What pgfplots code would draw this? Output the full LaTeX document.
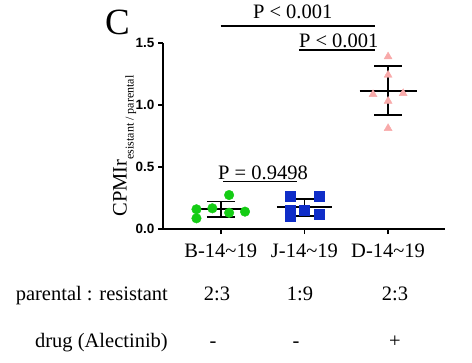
\documentclass[border=0pt]{standalone}
\usepackage{fontspec}
\setmainfont{Liberation Serif}
\setsansfont{Liberation Sans}
\usepackage{pgfplots}
\pgfplotsset{compat=1.18}
\definecolor{cgreen}{RGB}{20,204,20}
\definecolor{cblue}{RGB}{15,45,200}
\definecolor{cpink}{RGB}{248,170,170}
\newcommand{\bigfont}{\fontsize{20.5bp}{24bp}\selectfont}
\begin{document}
\begin{tikzpicture}
\begin{axis}[
  width=282bp, height=186bp, scale only axis,
  xmin=-0.69, xmax=2.68, ymin=0, ymax=1.5,
  axis x line=bottom, axis y line=left,
  axis line style={-, line width=1.6bp, black},
  xtick={0,1,2},
  xticklabels={B-14\textasciitilde19, J-14\textasciitilde19, D-14\textasciitilde19},
  ytick={0,0.5,1,1.5},
  tick align=outside, major tick length=5bp,
  tick style={line width=1.6bp, black},
  /pgf/number format/assume math mode=true,
  yticklabel style={font=\fontsize{13.5bp}{15bp}\selectfont\sffamily\bfseries,
    /pgf/number format/fixed, /pgf/number format/fixed zerofill,
    /pgf/number format/precision=1},
  xticklabel style={font=\bigfont, yshift=-6bp},
  clip=false,
]
% B-14~19
\addplot[only marks, mark=*, mark size=4.8bp, color=cgreen] coordinates {
  (-0.29,0.159) (-0.29,0.086) (-0.10,0.167) (0.10,0.274) (0.10,0.131) (0.29,0.140)};
% J-14~19
\addplot[only marks, mark=square*, mark size=4.8bp, color=cblue] coordinates {
  (0.83,0.266) (0.83,0.153) (0.83,0.099) (1.00,0.153) (1.18,0.266) (1.18,0.121)};
% D-14~19
\addplot[only marks, mark=triangle*, mark size=4.6bp, color=cpink] coordinates {
  (2,1.390) (2,1.242) (1.82,1.086) (2.18,1.094) (2,1.032) (2,0.812)};
% mean +- SD
\addplot[black, line width=1.8bp] coordinates {(-0.31,0.159) (0.31,0.159)};
\addplot[black, line width=1.8bp] coordinates {(0,0.094) (0,0.222)};
\addplot[black, line width=1.8bp] coordinates {(-0.165,0.222) (0.165,0.222)};
\addplot[black, line width=1.8bp] coordinates {(-0.165,0.094) (0.165,0.094)};
\addplot[black, line width=1.8bp] coordinates {(0.67,0.176) (1.33,0.176)};
\addplot[black, line width=1.8bp] coordinates {(1,0.107) (1,0.243)};
\addplot[black, line width=1.8bp] coordinates {(0.835,0.243) (1.165,0.243)};
\addplot[black, line width=1.8bp] coordinates {(0.835,0.107) (1.165,0.107)};
\addplot[black, line width=1.8bp] coordinates {(1.66,1.113) (2.34,1.113)};
\addplot[black, line width=1.8bp] coordinates {(2,0.917) (2,1.312)};
\addplot[black, line width=1.8bp] coordinates {(1.835,1.312) (2.165,1.312)};
\addplot[black, line width=1.8bp] coordinates {(1.835,0.917) (2.165,0.917)};
% significance
\draw[line width=1.2bp] (axis cs:0,1.637) -- (axis cs:1.84,1.637);
\node[anchor=base, font=\bigfont, inner sep=0pt] at (axis cs:0.86,1.70) {P < 0.001};
\draw[line width=1.2bp] (axis cs:0.935,1.444) -- (axis cs:1.84,1.444);
\node[anchor=base, font=\bigfont, inner sep=0pt] at (axis cs:1.41,1.462) {P < 0.001};
\draw[line width=1.2bp] (axis cs:0.03,0.383) -- (axis cs:0.91,0.383);
\node[anchor=base, font=\bigfont, inner sep=0pt] at (axis cs:0.505,0.401) {P = 0.9498};
\end{axis}
% pixel (px,py) -> (px-163, 229-py)
\path[use as bounding box] (-163bp,229bp) rectangle (309bp,-134bp);
\node[font=\fontsize{37bp}{40bp}\selectfont, anchor=base, inner sep=0pt] at (-45.5bp,194bp) {C};
\node[rotate=90, anchor=base, inner sep=0pt, font=\bigfont] at (-36.3bp,83bp)
  {CPMIr\raisebox{-7bp}{\fontsize{12bp}{13bp}\selectfont esistant / parental}};
\node[anchor=base east, font=\bigfont, inner sep=0pt] at (5bp,-71bp) {parental : resistant};
\node[anchor=base, font=\bigfont, inner sep=0pt] at (54bp,-71bp) {2:3};
\node[anchor=base, font=\bigfont, inner sep=0pt] at (137bp,-71bp) {1:9};
\node[anchor=base, font=\bigfont, inner sep=0pt] at (232bp,-71bp) {2:3};
\node[anchor=base east, font=\bigfont, inner sep=0pt] at (5bp,-118bp) {drug (Alectinib)};
\node[anchor=base, font=\bigfont, inner sep=0pt] at (50bp,-118bp) {-};
\node[anchor=base, font=\bigfont, inner sep=0pt] at (133bp,-118bp) {-};
\node[anchor=base, font=\bigfont, inner sep=0pt] at (232bp,-118bp) {+};
\end{tikzpicture}
\end{document}
